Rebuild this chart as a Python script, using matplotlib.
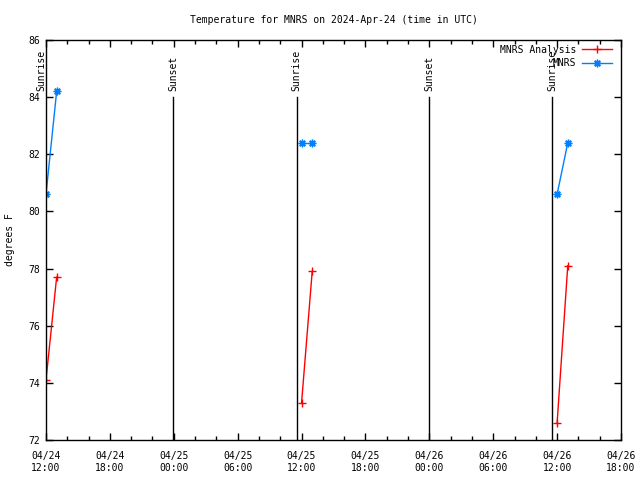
import matplotlib
matplotlib.use("Agg")
import matplotlib.pyplot as plt
import matplotlib.dates as mdates
import pandas as pd

plt.rcParams['font.family'] = ['DejaVu Sans Mono']
plt.rcParams['font.size'] = 7

analysis_times = ["2024-04-24 12:00", "2024-04-24 13:00", None,
                  "2024-04-25 12:00", "2024-04-25 13:00", None,
                  "2024-04-26 12:00", "2024-04-26 13:00"]
analysis_vals = [74.1, 77.7, None, 73.3, 77.9, None, 72.6, 78.1]

obs_times = ["2024-04-24 12:00", "2024-04-24 13:00", None,
             "2024-04-25 12:00", "2024-04-25 13:00", None,
             "2024-04-26 12:00", "2024-04-26 13:00"]
obs_vals = [80.6, 84.2, None, 82.4, 82.4, None, 80.6, 82.4]

sun_times = ["2024-04-24 11:36", "2024-04-24 23:55", "2024-04-25 11:32",
             "2024-04-25 23:58", "2024-04-26 11:34"]
sun_labels = ["Sunrise", "Sunset", "Sunrise", "Sunset", "Sunrise"]

x_start = "2024-04-24 12:00"
x_end = "2024-04-26 18:00"
y_min, y_max = 72, 86
sun_line_top = 84


def segments(times, vals):
    segs = []
    cur_t, cur_v = [], []
    for t, v in zip(times, vals):
        if t is None:
            if cur_t:
                segs.append((cur_t, cur_v))
            cur_t, cur_v = [], []
        else:
            cur_t.append(pd.Timestamp(t))
            cur_v.append(v)
    if cur_t:
        segs.append((cur_t, cur_v))
    return segs


fig = plt.figure(figsize=(6.4, 4.8), dpi=100)
ax = fig.add_axes([46/640, 1-440/480, (621-46)/640, 400/480])

red = '#ff0000'
blue = '#0080ff'

for i, (t, v) in enumerate(segments(analysis_times, analysis_vals)):
    ax.plot(t, v, color=red, lw=1, marker='+', ms=5.5, mew=1,
            label='MNRS Analysis' if i == 0 else None)
for i, (t, v) in enumerate(segments(obs_times, obs_vals)):
    ax.plot(t, v, color=blue, lw=1, marker=(8, 2, 0), ms=5.5, mew=1,
            label='MNRS' if i == 0 else None)

for t, lab in zip(sun_times, sun_labels):
    ts = pd.Timestamp(t)
    ax.plot([ts, ts], [y_min, sun_line_top], color='black', lw=1)
    ax.text(ts, sun_line_top + 0.2, lab, rotation=90, ha='center',
            va='bottom', fontsize=7)

ax.set_xlim(pd.Timestamp(x_start), pd.Timestamp(x_end))
ax.set_ylim(y_min, y_max)
ax.xaxis.set_major_locator(mdates.HourLocator(byhour=[0, 6, 12, 18]))
ax.xaxis.set_minor_locator(mdates.HourLocator(interval=2))
ax.xaxis.set_major_formatter(mdates.DateFormatter('%m/%d\n%H:%M'))
ax.set_yticks(range(72, 87, 2))

ax.tick_params(which='both', direction='in', top=True, right=True,
               labelsize=7, width=1)
ax.tick_params(which='major', length=5)
ax.tick_params(which='minor', length=3)
ax.tick_params(axis='x', pad=8)
ax.tick_params(axis='y', pad=4)
for s in ax.spines.values():
    s.set_linewidth(1)

ax.set_ylabel('degrees F', fontsize=7, labelpad=10)
ax.set_title('Temperature for MNRS on 2024-Apr-24 (time in UTC)',
             fontsize=7, pad=12)

leg = ax.legend(loc='upper right', bbox_to_anchor=(0.987, 0.993),
                frameon=False, markerfirst=False,
                fontsize=7, handlelength=3.0, borderaxespad=0.0,
                borderpad=0.2, labelspacing=0.35, handletextpad=0.6)

fig.savefig('out.png', dpi=100)
